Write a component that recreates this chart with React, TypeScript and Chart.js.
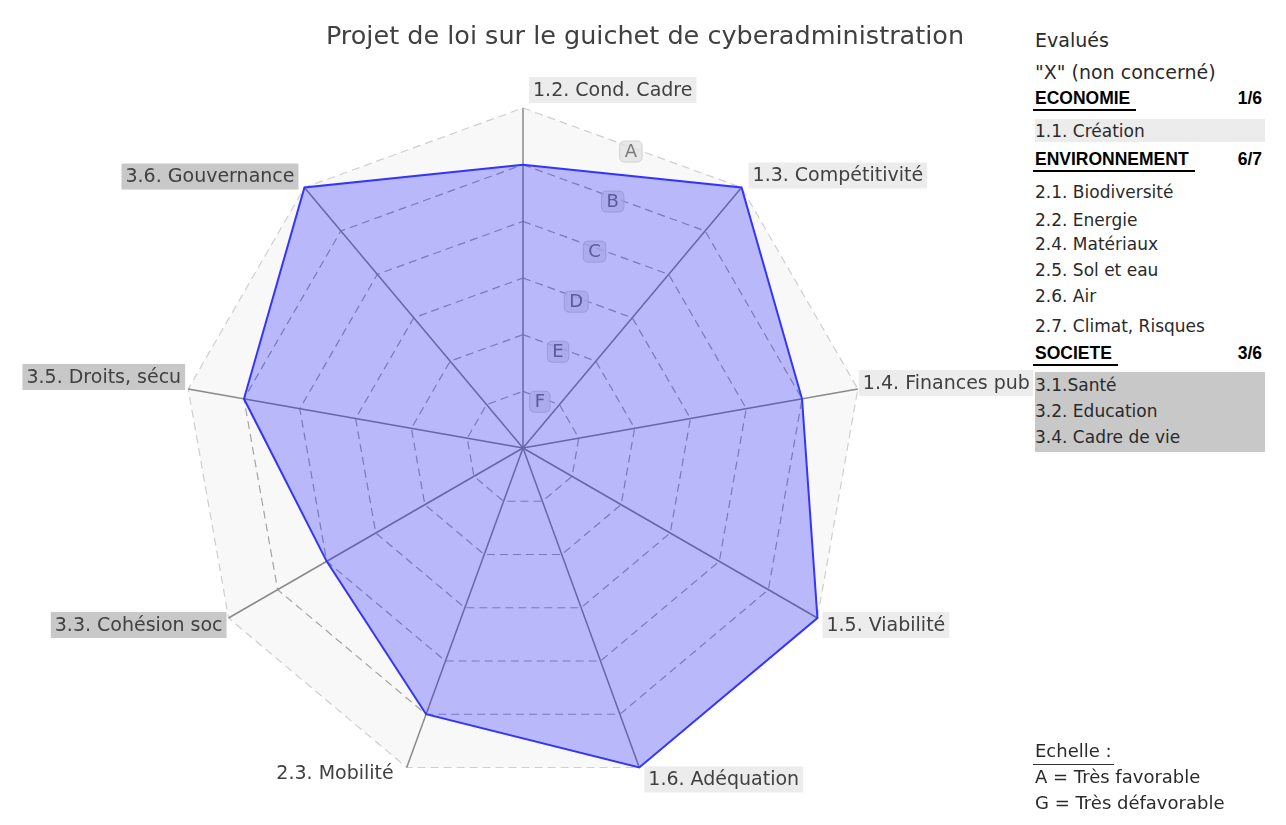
import React, { useEffect, useRef } from 'react';
import { Chart, registerables } from 'chart.js';

Chart.register(...registerables);

const TITLE = 'Projet de loi sur le guichet de cyberadministration';
const categories = [
  '1.2. Cond. Cadre',
  '1.3. Compétitivité',
  '1.4. Finances pub',
  '1.5. Viabilité',
  '1.6. Adéquation',
  '2.3. Mobilité',
  '3.3. Cohésion soc',
  '3.5. Droits, sécu',
  '3.6. Gouvernance',
];
// 6 = A (très favorable) ... 0 = G (très défavorable)
const scores = [5, 6, 5, 6, 6, 5, 4, 5, 6];
const scaleLetters = ['G', 'F', 'E', 'D', 'C', 'B', 'A'];

const economieItems = ['1.1. Création'];
const environnementItems = [
  '2.1. Biodiversité',
  '2.2. Energie',
  '2.4. Matériaux',
  '2.5. Sol et eau',
  '2.6. Air',
  '2.7. Climat, Risques',
];
const societeItems = ['3.1.Santé', '3.2. Education', '3.4. Cadre de vie'];
const economieCount = '1/6';
const environnementCount = '6/7';
const societeCount = '3/6';
const scaleLegend = ['A = Très favorable', 'G = Très défavorable'];

// ---- style helpers ----
const FONT = '"DejaVu Sans", Verdana, sans-serif';
const groupBackground = (label: string): string | null => {
  if (label.startsWith('1')) return '#ececec';
  if (label.startsWith('3')) return '#c8c8c8';
  return null;
};
const LABEL_LAYOUT = [
  { align: 'left', dx: 6, dy: -18 },
  { align: 'left', dx: 7, dy: -12 },
  { align: 'left', dx: 1, dy: -6 },
  { align: 'left', dx: 5, dy: 7 },
  { align: 'left', dx: 5, dy: 12 },
  { align: 'right', dx: -9, dy: 6 },
  { align: 'right', dx: -2, dy: 7 },
  { align: 'right', dx: -3, dy: -12 },
  { align: 'right', dx: -6, dy: -11 },
];

const roundRect = (ctx: CanvasRenderingContext2D, x: number, y: number, w: number, h: number, r: number) => {
  ctx.beginPath();
  ctx.moveTo(x + r, y);
  ctx.lineTo(x + w - r, y);
  ctx.quadraticCurveTo(x + w, y, x + w, y + r);
  ctx.lineTo(x + w, y + h - r);
  ctx.quadraticCurveTo(x + w, y + h, x + w - r, y + h);
  ctx.lineTo(x + r, y + h);
  ctx.quadraticCurveTo(x, y + h, x, y + h - r);
  ctx.lineTo(x, y + r);
  ctx.quadraticCurveTo(x, y, x + r, y);
  ctx.closePath();
};

const tickLabelPlugin = {
  id: 'tickLetters',
  beforeDatasetsDraw(chart: any) {
    const scale = chart.scales.r;
    const ctx: CanvasRenderingContext2D = chart.ctx;
    const a0 = scale.getIndexAngle(0);
    const a1 = scale.getIndexAngle(1);
    const half = (a1 - a0) / 2;
    const ang = a0 + half - Math.PI / 2;
    ctx.save();
    ctx.font = `18px ${FONT}`;
    ctx.textAlign = 'center';
    ctx.textBaseline = 'middle';
    for (let v = 1; v < scaleLetters.length; v++) {
      const r = scale.getDistanceFromCenterForValue(v) * Math.cos(half) - 4;
      const x = scale.xCenter + Math.cos(ang) * r;
      const y = scale.yCenter + Math.sin(ang) * r;
      const label = scaleLetters[v];
      const w = ctx.measureText(label).width + 10;
      const h = 21;
      roundRect(ctx, x - w / 2, y - h / 2, w, h, 5);
      ctx.fillStyle = 'rgba(226,226,226,0.75)';
      ctx.fill();
      ctx.strokeStyle = 'rgba(205,205,205,0.9)';
      ctx.lineWidth = 1;
      ctx.stroke();
      ctx.fillStyle = '#7a7a7a';
      ctx.fillText(label, x, y + 1);
    }
    ctx.restore();
  },
};

const pointLabelPlugin = {
  id: 'pointLabelsCustom',
  afterDatasetsDraw(chart: any) {
    const scale = chart.scales.r;
    const ctx: CanvasRenderingContext2D = chart.ctx;
    ctx.save();
    ctx.font = `19px ${FONT}`;
    ctx.textBaseline = 'middle';
    const labels: string[] = chart.data.labels;
    labels.forEach((label, i) => {
      const p = scale.getPointPosition(i, scale.drawingArea);
      const lay = LABEL_LAYOUT[i];
      const pad = 4;
      const w = ctx.measureText(label).width + pad * 2;
      const h = 26;
      const yc = p.y + lay.dy;
      const left = lay.align === 'left' ? p.x + lay.dx : p.x + lay.dx - w;
      const bg = groupBackground(label);
      if (bg) {
        ctx.fillStyle = bg;
        ctx.fillRect(left, yc - h / 2, w, h);
      }
      ctx.fillStyle = '#404040';
      ctx.textAlign = 'left';
      ctx.fillText(label, left + pad, yc + 1);
    });
    ctx.restore();
  },
};

const CANVAS_W = 1274;
const CANVAS_H = 817;

function RadarChart() {
  const ref = useRef<HTMLCanvasElement | null>(null);
  useEffect(() => {
    if (!ref.current) return;
    const chart = new Chart(ref.current, {
      type: 'radar',
      data: {
        labels: categories,
        datasets: [
          {
            label: 'Evaluation',
            data: scores,
            borderColor: '#3434ff',
            borderWidth: 2,
            backgroundColor: 'rgba(0,0,255,0.26)',
            fill: true,
            pointRadius: 0,
            pointHoverRadius: 0,
            tension: 0,
          },
        ],
      },
      options: {
        responsive: false,
        animation: false,
        layout: { padding: { left: 175, right: CANVAS_W - 855, top: 91, bottom: CANVAS_H - 791 } },
        plugins: {
          legend: { display: false },
          tooltip: { enabled: false },
          title: { display: false },
        },
        scales: {
          r: {
            min: 0,
            max: 6,
            beginAtZero: true,
            backgroundColor: '#f8f8f8',
            ticks: { stepSize: 1, display: false },
            pointLabels: { display: false },
            angleLines: { display: true, color: '#8a8a8a', lineWidth: 1.5 },
            grid: {
              color: (ctx: any) => (ctx.index === 6 ? '#cfcfcf' : '#a4a4a4'),
              lineWidth: 1.2,
              borderDash: [8, 5],
            },
            border: { dash: [8, 5] },
          } as any,
        },
      },
      plugins: [tickLabelPlugin, pointLabelPlugin],
    } as any);
    return () => chart.destroy();
  }, []);
  return <canvas ref={ref} width={CANVAS_W} height={CANVAS_H} style={{ position: 'absolute', left: 0, top: 0 }} />;
}

// page coordinates -> content coordinates (content origin at page (8,7))
const X0 = 8;
const Y0 = 7;
const PX = 1035 - X0;
const PW = 230;

const textRow = (text: string, yc: number, size: number, key: string, extra: any = {}) => (
  <div
    key={key}
    style={{
      position: 'absolute',
      left: PX,
      top: yc - Y0 - 12,
      width: PW,
      height: 24,
      lineHeight: '24px',
      fontFamily: FONT,
      fontSize: size,
      color: '#2a2a2a',
      whiteSpace: 'nowrap',
      ...extra,
    }}
  >
    {text}
  </div>
);

const header = (name: string, count: string, yc: number) => (
  <div
    key={name}
    style={{
      position: 'absolute',
      left: PX - 2,
      top: yc - Y0 - 12,
      width: PW,
      height: 24,
      display: 'flex',
      justifyContent: 'space-between',
      alignItems: 'flex-start',
      fontFamily: '"Liberation Sans", Arial, sans-serif',
      fontWeight: 'bold',
      fontSize: 17.5,
      color: '#000',
    }}
  >
    <span style={{ borderBottom: '2px solid #000', paddingRight: 6, paddingLeft: 2, lineHeight: '22px' }}>{name}</span>
    <span style={{ lineHeight: '22px', paddingRight: 1 }}>{count}</span>
  </div>
);

export default function App() {
  const envY = [192, 220, 244, 270, 296, 326];
  const socY = [385, 411, 437];
  return (
    <div
      style={{
        position: 'relative',
        width: CANVAS_W,
        height: CANVAS_H,
        marginLeft: -2,
        marginTop: -3,
        borderTop: '2px solid #e8e8e8',
        borderLeft: '2px solid #e8e8e8',
        borderRight: '2px solid #e8e8e8',
        background: '#fff',
        overflow: 'hidden',
      }}
    >
      <RadarChart />
      <div
        style={{
          position: 'absolute',
          left: 645 - X0 - 400,
          top: 35 - Y0 - 16,
          width: 800,
          height: 32,
          lineHeight: '32px',
          textAlign: 'center',
          fontFamily: FONT,
          fontSize: 25.5,
          color: '#404040',
          whiteSpace: 'nowrap',
        }}
      >
        {TITLE}
      </div>
      {/* legend panel */}
      <div style={{ position: 'absolute', left: PX - 2, top: 20, width: PW + 10, height: 440, background: '#fff' }} />
      {textRow('Evalués', 40, 19, 'ev')}
      {textRow('"X" (non concerné)', 72, 19, 'x')}
      {header('ECONOMIE', economieCount, 99)}
      <div style={{ position: 'absolute', left: PX, top: 119 - Y0, width: PW, height: 23, background: '#ececec' }} />
      {economieItems.map((t, i) => textRow(t, 131 + i * 26, 17, 'eco' + i))}
      {header('ENVIRONNEMENT', environnementCount, 160)}
      {environnementItems.map((t, i) => textRow(t, envY[i], 17, 'env' + i))}
      {header('SOCIETE', societeCount, 354)}
      <div style={{ position: 'absolute', left: PX, top: 372 - Y0, width: PW, height: 80, background: '#c8c8c8' }} />
      {societeItems.map((t, i) => textRow(t, socY[i], 17, 'soc' + i))}
      <div
        style={{
          position: 'absolute',
          left: PX - 2,
          top: 752 - Y0 - 12,
          height: 24,
          lineHeight: '22px',
          fontFamily: FONT,
          fontSize: 18,
          color: '#2a2a2a',
          borderBottom: '1.5px solid #333',
          paddingLeft: 2,
          paddingRight: 2,
          whiteSpace: 'nowrap',
        }}
      >
        Echelle :
      </div>
      {scaleLegend.map((t, i) => textRow(t, 777 + i * 26, 18, 'sc' + i))}
    </div>
  );
}
